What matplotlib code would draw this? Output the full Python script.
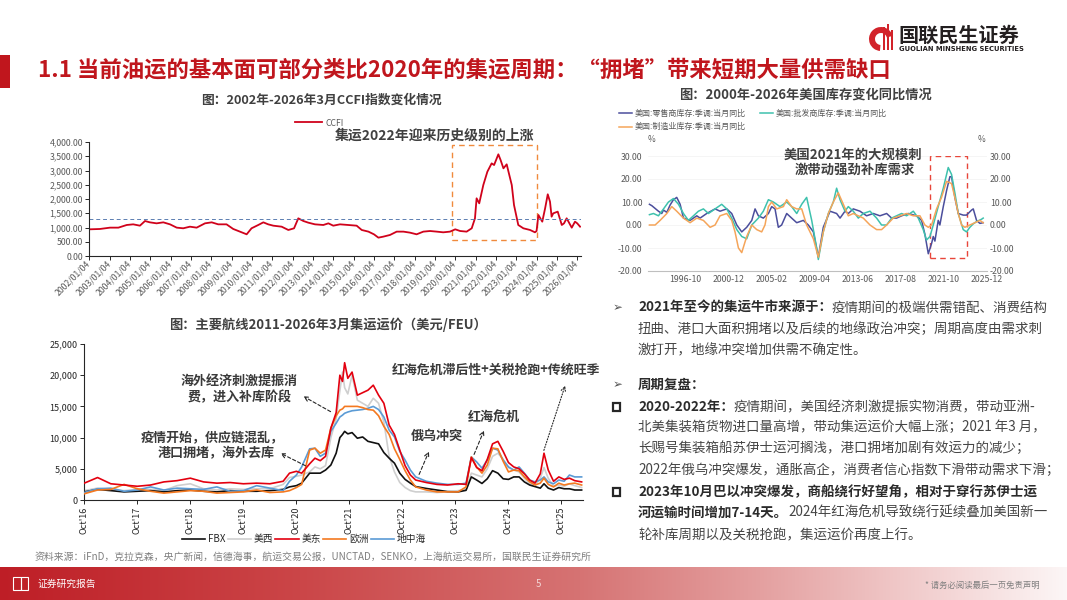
import numpy as np
import matplotlib
matplotlib.use('Agg')
import matplotlib.pyplot as plt
from matplotlib.patches import Rectangle, FancyArrowPatch, Wedge
from matplotlib.ticker import FuncFormatter

plt.rcParams['font.family'] = ['Noto Sans CJK SC', 'DejaVu Sans']
plt.rcParams['axes.unicode_minus'] = False

# ---------------- data ----------------
ccfi_dates = [2002.0, 2002.52, 2003.02, 2003.43, 2003.84, 2004.16, 2004.49, 2004.74, 2004.98, 2005.31,
              2005.64, 2005.97, 2006.3, 2006.62, 2006.95, 2007.28, 2007.69, 2008.02, 2008.34, 2008.75,
              2009.08, 2009.41, 2009.74, 2009.98, 2010.31, 2010.56, 2010.8, 2011.05, 2011.46, 2011.79,
              2012.07, 2012.28, 2012.53, 2012.77, 2013.1, 2013.51, 2013.76, 2014.0, 2014.33, 2014.74,
              2015.15, 2015.4, 2015.73, 2016.0, 2016.22, 2016.46, 2016.79, 2017.12, 2017.45, 2017.77,
              2018.1, 2018.43, 2018.76, 2019.09, 2019.41, 2019.74, 2020.0, 2020.24, 2020.56, 2020.81,
              2020.97, 2021.05, 2021.18, 2021.38, 2021.58, 2021.79, 2021.91, 2022.12, 2022.23, 2022.37,
              2022.53, 2022.78, 2022.89, 2023.1, 2023.35, 2023.68, 2023.92, 2024.0, 2024.09, 2024.28,
              2024.42, 2024.55, 2024.66, 2024.74, 2024.82, 2025.04, 2025.24, 2025.35, 2025.48, 2025.73,
              2025.89, 2026.0, 2026.14]
ccfi_values = [936, 948, 995, 995, 1088, 1111, 1064, 1228, 1181, 1146,
               1181, 1111, 995, 972, 1029, 995, 1146, 1181, 1111, 1111,
               948, 855, 761, 972, 1088, 1181, 1111, 1064, 1029, 913,
               971, 1322, 1228, 1170, 1111, 1088, 1146, 1064, 1111, 1088,
               1064, 913, 855, 761, 644, 679, 738, 855, 855, 820,
               761, 855, 877, 855, 831, 855, 936, 877, 855, 972,
               1322, 2024, 1848, 2490, 2958, 3250, 3192, 3568, 3368, 3076,
               3216, 2490, 1789, 1088, 972, 913, 831, 877, 1439, 1205,
               1672, 2165, 1907, 1380, 1497, 1556, 1088, 1146, 1322, 994,
               1205, 1146, 1030]
ccfi_ref_level = 1290
ccfi_years = list(range(2002, 2027))

retail_dates = [1993.34, 1993.57, 1993.89, 1994.21, 1994.53, 1994.70, 1995.02, 1995.34, 1995.66, 1995.98,
                1996.31, 1996.63, 1997.27, 1997.92, 1998.24, 1998.88, 1999.69, 2000.17, 2000.82, 2001.30,
                2001.79, 2002.27, 2002.75, 2003.24, 2003.56, 2003.88, 2004.36, 2004.85, 2005.17, 2005.49,
                2005.81, 2006.13, 2006.62, 2007.10, 2007.59, 2008.23, 2008.71, 2009.20, 2009.68, 2010.16,
                2010.81, 2011.45, 2011.78, 2012.26, 2012.58, 2013.06, 2013.71, 2014.35, 2015.00, 2015.64,
                2016.29, 2016.77, 2017.25, 2017.74, 2018.38, 2019.19, 2019.67, 2019.99, 2020.32, 2020.64,
                2020.80, 2020.96, 2021.28, 2021.44, 2021.77, 2022.09, 2022.41, 2022.57, 2022.89, 2023.22,
                2023.70, 2024.02, 2024.51, 2024.67, 2024.99, 2025.31, 2025.63]
retail = [9, 8.4, 7.2, 6, 5, 6.5, 5.5, 8.7, 11, 12,
          9, 3, 2, 4, 3, 5, 7, 6, 7, 5,
          0, -3, -1, 2, 7, 4, 3, 5, 8, 7,
          -1, 0, 5, 3, 1, 2, 0, -3, -14, -1,
          6, 5, 3, 6, 5, 7, 6, 4, 5, 4,
          5, 3, 3, 4, 5, 4, 2, -4, -12.5, -8,
          -5, -7, 2, 0, 8, 15, 21, 21, 12, 5,
          4.3, 4.3, 6.5, 7, 2, 0.7, 1]

wholesale_dates = [1993.34, 1993.73, 1994.21, 1994.70, 1995.18, 1995.66, 1996.15, 1996.63, 1997.11, 1997.60,
                   1998.08, 1998.56, 1999.05, 1999.69, 2000.33, 2000.82, 2001.30, 2001.79, 2002.27, 2002.75,
                   2003.24, 2003.88, 2004.36, 2004.85, 2005.33, 2005.97, 2006.62, 2007.10, 2007.59, 2008.07,
                   2008.55, 2009.04, 2009.52, 2009.68, 2010.16, 2010.65, 2011.13, 2011.45, 2011.78, 2012.26,
                   2012.58, 2013.06, 2013.55, 2014.03, 2014.68, 2015.32, 2015.80, 2016.29, 2016.77, 2017.25,
                   2017.74, 2018.22, 2018.87, 2019.35, 2019.83, 2020.15, 2020.48, 2020.80, 2021.28, 2021.77,
                   2022.25, 2022.57, 2022.89, 2023.22, 2023.70, 2024.02, 2024.34, 2024.67, 2024.99, 2025.47,
                   2025.63]
wholesale = [4.5, 5, 4, 7, 10, 11.5, 9, 5, 2, 4,
             6, 7, 5, 7, 9, 7, 3, -2, -5, -6,
             0, 3, 6, 11, 10, 8, 10, 8, 5, 9,
             12, 2, -10, -15, -3, 5, 10, 16, 11, 6,
             8, 6, 3, 5, 6, 3, 0, 0, 3, 4,
             5, 4, 6, 3, -2, -6.5, -5, 0, 8, 16,
             25, 22, 14, 5, -2, -3, -1, 0.5, 1.5, 2.5,
             3]

manuf_dates = [1993.34, 1993.89, 1994.37, 1995.02, 1995.50, 1995.98, 1996.63, 1997.27, 1997.92, 1998.56,
               1999.21, 1999.69, 2000.17, 2000.82, 2001.30, 2001.62, 2001.95, 2002.27, 2002.75, 2003.24,
               2003.72, 2004.20, 2004.52, 2004.85, 2005.17, 2005.65, 2006.30, 2006.62, 2007.10, 2007.59,
               2008.07, 2008.55, 2009.20, 2009.68, 2010.16, 2010.65, 2011.13, 2011.61, 2012.10, 2012.58,
               2013.06, 2013.55, 2014.03, 2014.68, 2015.32, 2015.80, 2016.29, 2016.93, 2017.58, 2018.22,
               2018.87, 2019.51, 2019.99, 2020.32, 2020.64, 2021.12, 2021.60, 2022.09, 2022.57, 2022.89,
               2023.22, 2023.54, 2023.86, 2024.34, 2024.83, 2025.31, 2025.63]
manufacturing = [0, 0, 2, 5, 8, 6, 3, 1, 3, 2,
                 -1, 0, 4, 5, 2, -3, -10, -12, -5, 0,
                 -2, -3, 0, 8, 10, 7, 8, 11, 8, 7,
                 7, 0, -6, -14, -3, 5, 10, 14, 9, 4,
                 5, 4, 3, 0, -2, -2, 0, 3, 4, 5,
                 4, 4, 0, -1, 0, 7, 12, 19, 18, 12,
                 5, 0, -1, 0, 1, 2, 1]
inv_tick_pos = [1996.79, 2000.96, 2005.12, 2009.29, 2013.46, 2017.62, 2021.79, 2025.96]
inv_tick_labels = ['1996-10', '2000-12', '2005-02', '2009-04', '2013-06', '2017-08', '2021-10', '2025-12']

freight_dates = [2016.75, 2017.0, 2017.25, 2017.5, 2017.75, 2018.0, 2018.25, 2018.5, 2018.75, 2019.0,
                 2019.25, 2019.5, 2019.75, 2020.0, 2020.25, 2020.5, 2020.62, 2020.75, 2020.85, 2021.0,
                 2021.1, 2021.2, 2021.3, 2021.4, 2021.5, 2021.57, 2021.62, 2021.66, 2021.72, 2021.8,
                 2021.9, 2022.0, 2022.1, 2022.2, 2022.3, 2022.4, 2022.5, 2022.6, 2022.7, 2022.8,
                 2022.9, 2023.0, 2023.2, 2023.4, 2023.6, 2023.8, 2023.95, 2024.05, 2024.15, 2024.25,
                 2024.35, 2024.45, 2024.55, 2024.65, 2024.75, 2024.85, 2024.95, 2025.05, 2025.15, 2025.25,
                 2025.35, 2025.42, 2025.5, 2025.6, 2025.7, 2025.8, 2025.9, 2026.0, 2026.13]
fbx = [1300, 1700, 1500, 1300, 1400, 1500, 1300, 1500, 1600, 1400,
       1300, 1500, 1400, 1400, 1500, 1700, 2100, 2300, 2700, 4300,
       4300, 4300, 4800, 5600, 7500, 10000, 10500, 11000, 10600, 10800,
       9900, 10100, 9400, 9200, 9000, 7600, 6700, 5900, 4300, 3300,
       2700, 2150, 1850, 1600, 1350, 1300, 1550, 3700, 3200, 2650,
       3400, 4700, 4300, 3400, 3300, 3700, 3700, 2900, 2400, 2150,
       1900, 2600, 1900, 1600, 2000, 1800, 1800, 1600, 1600]
us_west = [1500, 1900, 1700, 1500, 1700, 1700, 1500, 2300, 2600, 1800,
           1600, 1800, 1700, 1800, 1800, 2500, 3600, 3800, 4000, 4500,
           5300, 5000, 5500, 10000, 13000, 17500, 20500, 18000, 17000, 20000,
           16000, 15500, 15000, 16300, 15500, 12500, 7000, 4500, 2800, 2000,
           1500, 1300, 1300, 1200, 1300, 1500, 1700, 4300, 4000, 3700,
           5000, 7000, 7500, 6500, 5200, 4800, 4500, 3500, 2600, 2300,
           3500, 5200, 3500, 2200, 2400, 2200, 2600, 2300, 2000]
us_east = [2700, 3600, 2600, 2400, 2200, 2400, 2900, 3100, 3500, 2900,
           2700, 2800, 2600, 2700, 2600, 3000, 4300, 4600, 4300, 5800,
           6700, 6300, 7000, 11500, 14000, 20000, 19000, 22000, 19500, 20500,
           16800, 17200, 17600, 18400, 16800, 15500, 12000, 10500, 8000, 5500,
           4000, 3200, 2800, 2500, 2400, 2600, 2500, 6800, 5200, 4700,
           6500, 9000, 9400, 7800, 6000, 5300, 5000, 4200, 3200, 2700,
           4200, 7500, 4800, 3000, 3700, 3300, 3500, 3100, 2900]
europe = [1000, 1600, 1700, 2500, 1800, 1400, 1100, 1300, 1500, 1400,
          1100, 1200, 1300, 1600, 1200, 1300, 1500, 2000, 2500, 8000,
          8300, 7500, 8000, 11500, 13500, 14400, 14600, 15000, 15000, 15000,
          15000, 14800, 14500, 14400, 13500, 11800, 10500, 8200, 6500, 4700,
          3200, 2100, 1600, 1300, 1300, 1300, 2100, 6900, 5300, 4300,
          5600, 8300, 8200, 6200, 4500, 4800, 4700, 3700, 2900, 2400,
          2700, 3500, 2500, 2100, 2700, 2400, 2600, 2700, 2400]
mediterranean = [1200, 1800, 1900, 1400, 1600, 2100, 1600, 1900, 1800, 1700,
                 2100, 1400, 1500, 2300, 1900, 1500, 3000, 4000, 5300, 8200,
                 8300, 7000, 7500, 11000, 12300, 13300, 13600, 13900, 14100, 14300,
                 14400, 14500, 14700, 15000, 14500, 13300, 11200, 10100, 7800, 6400,
                 4800, 3700, 3000, 2700, 2500, 2500, 2700, 6900, 6100, 5100,
                 6400, 8300, 8000, 6400, 5300, 4800, 5300, 4300, 3200, 2900,
                 3200, 3700, 2900, 2600, 3200, 3000, 4000, 3700, 3700]
freight_tick_pos = [2016.75 + k for k in range(10)]
freight_tick_labels = ["Oct'%d" % (16 + k) for k in range(10)]

# ---------------- figure ----------------
W, H = 1067, 600
fig = plt.figure(figsize=(W / 100, H / 100), dpi=100)
fig.patch.set_facecolor('white')


def rect(l, t, r, b):
    return [l / W, 1 - b / H, (r - l) / W, (b - t) / H]


# background layer
bg = fig.add_axes([0, 0, 1, 1], zorder=-5)
bg.axis('off')
xs = np.arange(W)
stops_x = [0, 300, 580, 760, 900, 1066]
stops_c = np.array([[190, 30, 38], [203, 70, 72], [214, 115, 115], [228, 160, 160],
                    [240, 200, 200], [252, 246, 246]]) / 255.0
grad = np.stack([np.interp(xs, stops_x, stops_c[:, i]) for i in range(3)], axis=-1)[None, :, :]
bg.imshow(grad, extent=(0, W, 600, 567), aspect='auto', interpolation='bilinear')
bg.add_patch(Rectangle((0, 55), 10, 33, color='#C0161D', lw=0))
bg.set_xlim(0, W)
bg.set_ylim(H, 0)

GRAY = '#595959'

# ---------------- CCFI chart ----------------
ax1 = fig.add_axes(rect(89.3, 142, 581.3, 256))
l_ccfi, = ax1.plot(ccfi_dates, ccfi_values, color='#D0021B', lw=1.3, label='CCFI')
ax1.axhline(ccfi_ref_level, color='#5B7DB1', lw=0.7, ls=(0, (4, 3)))
ax1.add_patch(Rectangle((2019.85, 560), 4.15, 3340, fill=False, ec='#F08A3C', lw=1.0, ls=(0, (4, 3))))
ax1.set_xlim(2002, 2026.2)
ax1.set_ylim(0, 4000)
ax1.set_yticks(np.arange(0, 4001, 500))
ax1.yaxis.set_major_formatter(FuncFormatter(lambda v, p: '{:,.2f}'.format(v)))
ax1.set_xticks(ccfi_years)
ax1.set_xticklabels(['%d/01/04' % y for y in ccfi_years], rotation=45, ha='right',
                    rotation_mode='anchor', va='center')
for s in ['top', 'right']:
    ax1.spines[s].set_visible(False)
for s in ['left', 'bottom']:
    ax1.spines[s].set_color('#262626')
    ax1.spines[s].set_linewidth(0.8)
ax1.tick_params(labelsize=6.3, colors='#262626', labelcolor=GRAY, length=3, width=0.7, pad=1.5)
ax1.legend(handles=[l_ccfi], loc='center left', bbox_to_anchor=(295 / W, 1 - 123 / H),
           bbox_transform=fig.transFigure, frameon=False, fontsize=6.2, handlelength=3.1,
           handletextpad=0.4, borderpad=0, borderaxespad=0, labelcolor=GRAY)

# ---------------- inventory chart ----------------
ax2 = fig.add_axes(rect(648, 156, 987, 271))
l_r, = ax2.plot(retail_dates, retail, color='#4B4E9C', lw=1.1, label='美国:零售商库存:季调:当月同比')
l_w, = ax2.plot(wholesale_dates, wholesale, color='#3EC1AD', lw=1.1, label='美国:批发商库存:季调:当月同比')
l_m, = ax2.plot(manuf_dates, manufacturing, color='#F5A55A', lw=1.1, label='美国:制造业库存:季调:当月同比')
ax2.add_patch(Rectangle((2020.48, -14.5), 3.55, 44.5, fill=False, ec='#E8463A', lw=1.0, ls=(0, (4, 3))))
ax2.set_xlim(1993.2, 2026.0)
ax2.set_ylim(-20, 30)
ax2.set_yticks(np.arange(-20, 31, 10))
ax2.yaxis.set_major_formatter(FuncFormatter(lambda v, p: '%.2f' % v))
ax2.set_xticks(inv_tick_pos)
ax2.set_xticklabels(inv_tick_labels)
for s in ['top', 'right', 'left']:
    ax2.spines[s].set_visible(False)
ax2.spines['bottom'].set_color('#BFBFBF')
ax2.spines['bottom'].set_linewidth(0.8)
ax2.tick_params(labelsize=6.3, labelcolor=GRAY, length=0, pad=4)
ax2.tick_params(axis='x', pad=3)
ax2.grid(axis='y', color='#F2F2F2', lw=0.5)
ax2.set_axisbelow(True)
ax2r = ax2.twinx()
ax2r.set_ylim(-20, 30)
ax2r.set_yticks(np.arange(-20, 31, 10))
ax2r.yaxis.set_major_formatter(FuncFormatter(lambda v, p: '%.2f' % v))
for s in ['top', 'right', 'left', 'bottom']:
    ax2r.spines[s].set_visible(False)
ax2r.tick_params(labelsize=6.3, labelcolor=GRAY, length=0, pad=2)
ax2.legend(handles=[l_r, l_m, l_w], ncol=2, loc='upper left', bbox_to_anchor=(619 / W, 1 - 108.5 / H),
           bbox_transform=fig.transFigure, frameon=False, fontsize=5.8, handlelength=1.6,
           handletextpad=0.4, columnspacing=1.7, labelspacing=0.6, borderpad=0, borderaxespad=0,
           labelcolor=GRAY)

# ---------------- freight chart ----------------
ax3 = fig.add_axes(rect(84.3, 344, 582.7, 500))
l_fbx, = ax3.plot(freight_dates, fbx, color='#111111', lw=1.2, label='FBX', zorder=3)
l_west, = ax3.plot(freight_dates, us_west, color='#CFCFCF', lw=1.2, label='美西', zorder=2)
l_med, = ax3.plot(freight_dates, mediterranean, color='#5B9BD5', lw=1.2, label='地中海', zorder=4)
l_eu, = ax3.plot(freight_dates, europe, color='#F47920', lw=1.2, label='欧洲', zorder=5)
l_east, = ax3.plot(freight_dates, us_east, color='#E3000F', lw=1.2, label='美东', zorder=6)
ax3.set_xlim(2016.75, 2026.15)
ax3.set_ylim(0, 25000)
ax3.set_yticks(np.arange(0, 25001, 5000))
ax3.yaxis.set_major_formatter(FuncFormatter(lambda v, p: '{:,.0f}'.format(v)))
ax3.set_xticks(freight_tick_pos)
ax3.set_xticklabels(freight_tick_labels, rotation=90)
for s in ['top', 'right']:
    ax3.spines[s].set_visible(False)
for s in ['left', 'bottom']:
    ax3.spines[s].set_color('#262626')
    ax3.spines[s].set_linewidth(0.8)
ax3.tick_params(labelsize=6.5, colors='#262626', labelcolor='#262626', length=3, width=0.7, pad=2)
ax3.legend(handles=[l_fbx, l_west, l_east, l_eu, l_med], ncol=5, loc='center',
           bbox_to_anchor=(304 / W, 1 - 539 / H), bbox_transform=fig.transFigure, frameon=False,
           fontsize=7, handlelength=2.4, handletextpad=0.3, columnspacing=0.2, borderpad=0,
           borderaxespad=0, labelcolor='#262626')

# ---------------- foreground texts ----------------
fg = fig.add_axes([0, 0, 1, 1], zorder=20)
fg.axis('off')
fg.set_xlim(0, W)
fg.set_ylim(H, 0)

TXT = '#404040'
fg.text(38, 70, '1.1 当前油运的基本面可部分类比2020年的集运周期：“拥堵”带来短期大量供需缺口',
        fontsize=16.1, fontweight='bold', color='#C0161D', va='center', ha='left')

# logo
fg.add_patch(Wedge((881, 39), 12, 95, 345, width=6, color='#D2232A', lw=0))
for bx, top in [(883, 27), (887, 24), (891, 30)]:
    fg.add_patch(Rectangle((bx, top), 2.2, 50 - top, color='#D2232A', lw=0))
fg.text(898, 35, '国联民生证券', fontsize=14.5, fontweight='bold', color='#231F20', va='center', ha='left')
fg.text(899, 49, 'GUOLIAN MINSHENG SECURITIES', fontsize=4.9, fontweight='bold', color='#231F20',
        va='center', ha='left', family=['DejaVu Sans'])

# chart titles
fg.text(321, 100, '图：2002年-2026年3月CCFI指数变化情况', fontsize=9.2, fontweight='bold', color=TXT,
        ha='center', va='center')
fg.text(435, 136, '集运2022年迎来历史级别的上涨', fontsize=10, fontweight='bold', color=TXT,
        ha='center', va='center')
fg.text(805, 95, '图：2000年-2026年美国库存变化同比情况', fontsize=9.5, fontweight='bold', color=TXT,
        ha='center', va='center')
fg.text(853, 155, '美国2021年的大规模刺', fontsize=9.6, fontweight='bold', color=TXT, ha='center', va='center')
fg.text(855, 170, '激带动强劲补库需求', fontsize=9.6, fontweight='bold', color=TXT, ha='center', va='center')
fg.text(652, 139, '%', fontsize=6, color=GRAY, ha='center', va='center')
fg.text(981, 139, '%', fontsize=6, color=GRAY, ha='center', va='center')
fg.text(328, 325, '图：主要航线2011-2026年3月集运运价（美元/FEU）', fontsize=9.5, fontweight='bold',
        color=TXT, ha='center', va='center')

# freight chart annotations
ANN = '#3A3A3A'
fg.text(239, 381, '海外经济刺激提振消', fontsize=9.4, fontweight='bold', color=ANN, ha='center', va='center')
fg.text(240, 397, '费，进入补库阶段', fontsize=9.4, fontweight='bold', color=ANN, ha='center', va='center')
fg.text(212, 438, '疫情开始，供应链混乱，', fontsize=9.4, fontweight='bold', color=ANN, ha='center', va='center')
fg.text(216, 453, '港口拥堵，海外去库', fontsize=9.4, fontweight='bold', color=ANN, ha='center', va='center')
fg.text(392, 370, '红海危机滞后性+关税抢跑+传统旺季', fontsize=9.3, fontweight='bold', color=ANN,
        ha='left', va='center')
fg.text(494, 417, '红海危机', fontsize=9.4, fontweight='bold', color=ANN, ha='center', va='center')
fg.text(437, 436, '俄乌冲突', fontsize=9.4, fontweight='bold', color=ANN, ha='center', va='center')

arrows = [((333, 413), (301, 395), (0, (3, 2))),
          ((308, 467), (278, 452), (0, (3, 2))),
          ((418, 477), (430, 449), (0, (3, 2))),
          ((473, 457), (485, 428), (0, (3, 2))),
          ((543, 453), (566, 383), (0, (1, 1.5)))]
for tail, head, ls in arrows:
    fg.add_patch(FancyArrowPatch(tail, head, arrowstyle='->', mutation_scale=8, lw=0.8,
                                 linestyle=ls, color='#262626'))

fg.text(35, 557, '资料来源：iFnD，克拉克森，央广新闻，信德海事，航运交易公报，UNCTAD，SENKO，上海航运交易所，国联民生证券研究所',
        fontsize=7.1, color='#7F7F7F', ha='left', va='center')

# right text block
def rich(x, y, parts, size=9.7):
    prev = None
    for txt, bold in parts:
        kw = dict(fontsize=size, fontweight='bold' if bold else 'normal',
                  color='#2B2B2B' if bold else '#454545', va='center', ha='left')
        if prev is None:
            prev = fg.text(x, y, txt, **kw)
        else:
            prev = fg.annotate(txt, xy=(1, 0.5), xycoords=prev, **kw)
    return prev


TX = 638
lines = [
    (308, [('2021年至今的集运牛市来源于：', True), ('疫情期间的极端供需错配、消费结构', False)]),
    (329, [('扭曲、港口大面积拥堵以及后续的地缘政治冲突；周期高度由需求刺', False)]),
    (350, [('激打开，地缘冲突增加供需不确定性。', False)]),
    (385, [('周期复盘：', True)]),
    (407, [('2020-2022年：', True), ('疫情期间，美国经济刺激提振实物消费，带动亚洲-', False)]),
    (427, [('北美集装箱货物进口量高增，带动集运运价大幅上涨；2021 年3 月，', False)]),
    (448, [('长赐号集装箱船苏伊士运河搁浅，港口拥堵加剧有效运力的减少；', False)]),
    (470, [('2022年俄乌冲突爆发，通胀高企，消费者信心指数下滑带动需求下滑；', False)]),
    (492, [('2023年10月巴以冲突爆发，商船绕行好望角，相对于穿行苏伊士运', True)]),
    (513, [('河运输时间增加7-14天。', True), ('2024年红海危机导致绕行延续叠加美国新一', False)]),
    (535, [('轮补库周期以及关税抢跑，集运运价再度上行。', False)]),
]
for y, parts in lines:
    rich(TX, y, parts)
for y in (308, 385):
    fg.text(618, y, '➢', fontsize=8.5, color='#505050', ha='center', va='center', family=['DejaVu Sans'])
for y in (407, 492):
    fg.add_patch(Rectangle((612.5, y - 3.8), 7.6, 7.6, fill=False, ec='#262626', lw=1.6))

# footer
fg.add_patch(Rectangle((13, 577), 7.5, 13, fill=False, ec='white', lw=0.8))
fg.add_patch(Rectangle((20.5, 577), 7.5, 13, fill=False, ec='white', lw=0.8))
fg.text(38, 584, '证券研究报告', fontsize=7, color='white', ha='left', va='center')
fg.text(538, 584, '5', fontsize=7, color='#F3D6D6', ha='center', va='center')
fg.text(925, 585, '* 请务必阅读最后一页免责声明', fontsize=6, color='#7F7F7F', ha='left', va='center')

fig.savefig('out.png', dpi=100, facecolor='white')
